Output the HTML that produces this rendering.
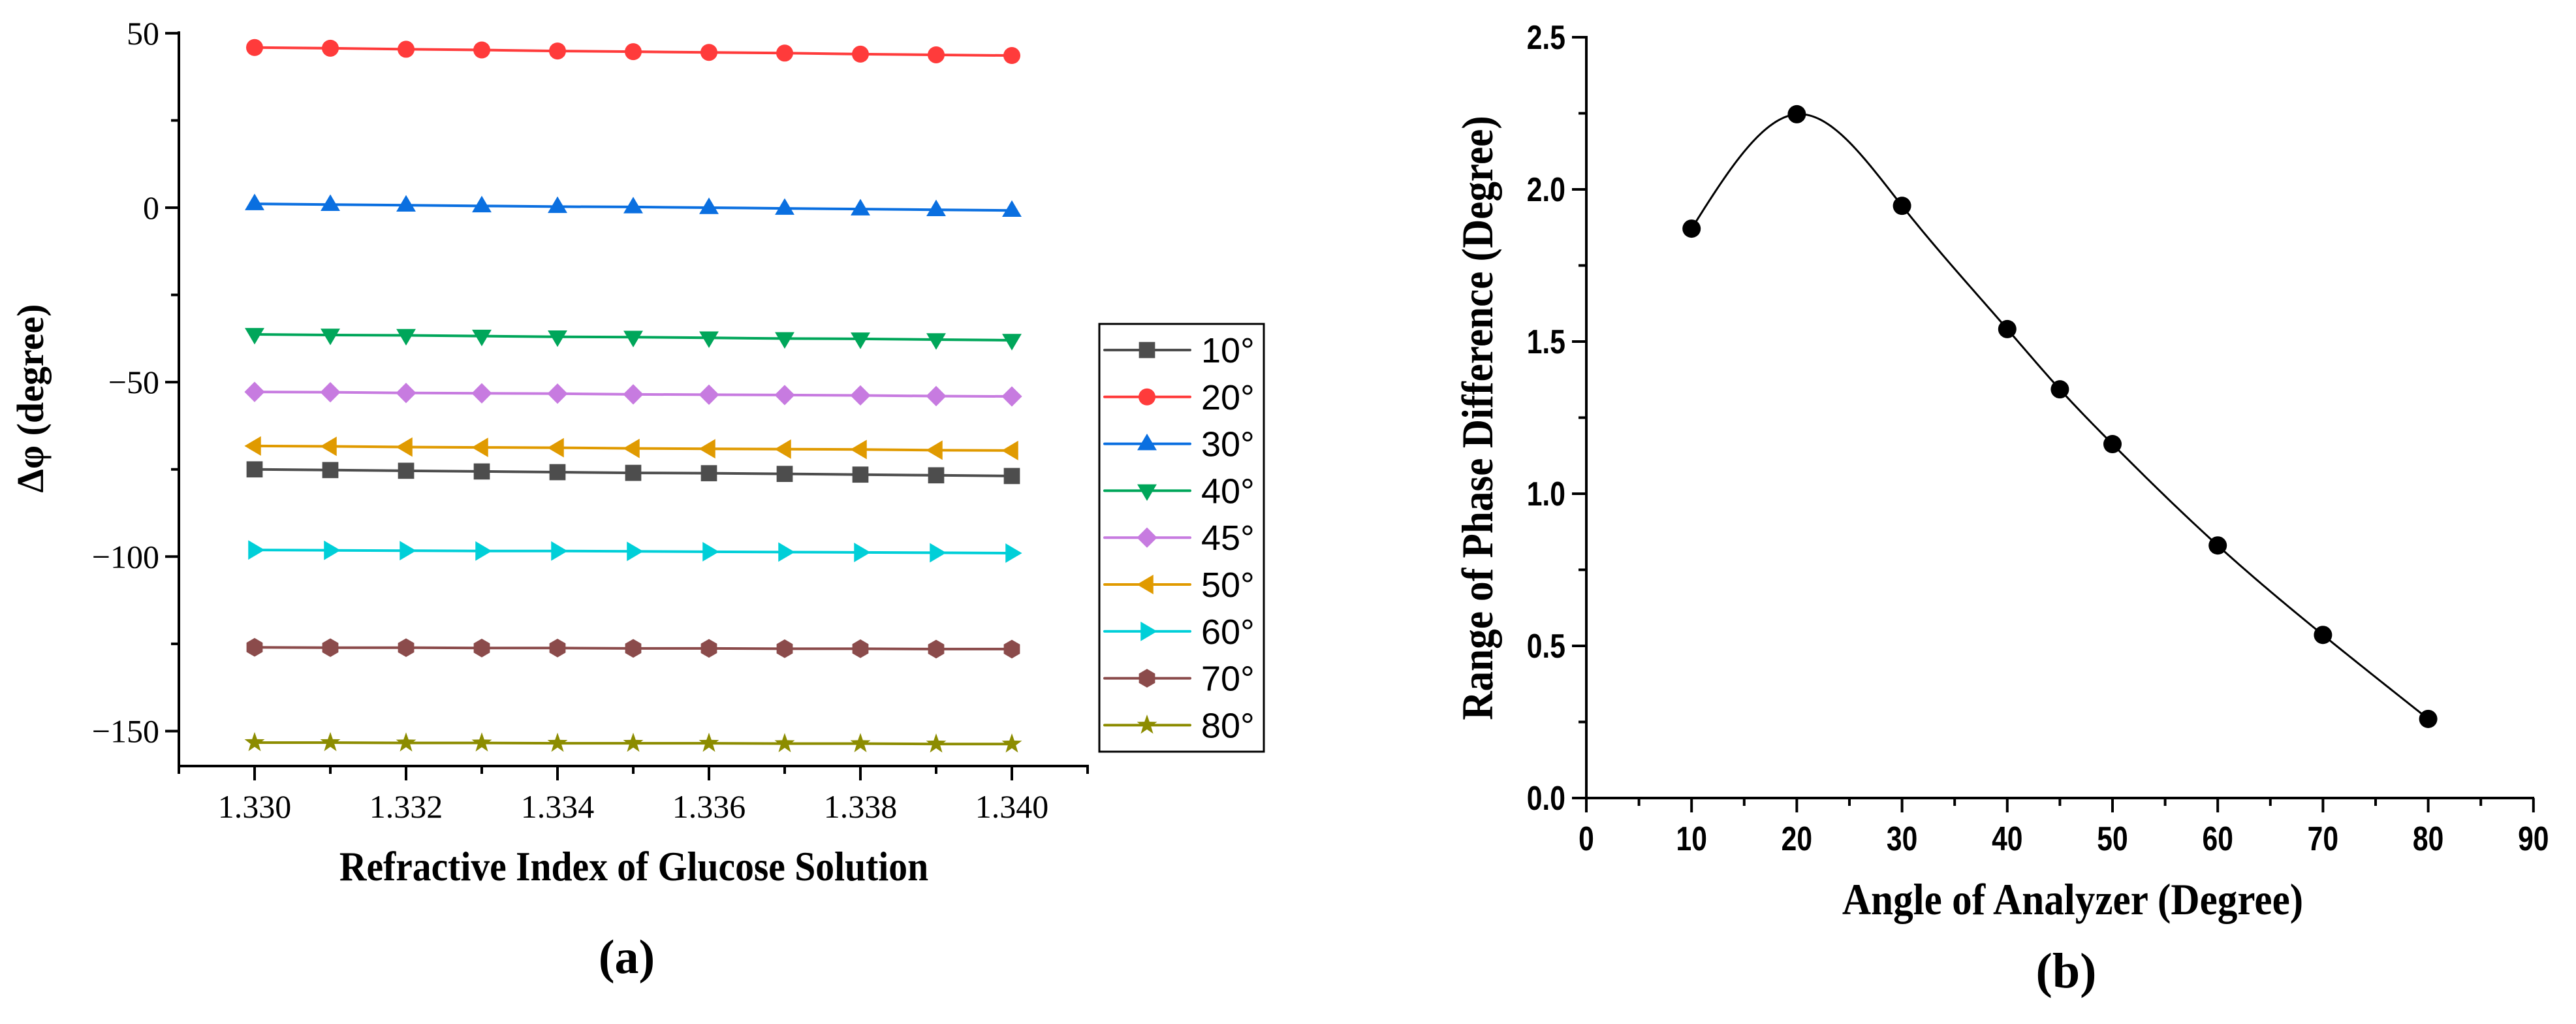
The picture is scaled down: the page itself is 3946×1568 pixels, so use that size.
<!DOCTYPE html>
<html><head><meta charset="utf-8"><style>
html,body{margin:0;padding:0;background:#fff}
svg{display:block}
.ser{font-family:"Liberation Serif",serif}
.san{font-family:"Liberation Sans",sans-serif}
</style></head><body>
<svg id="fig" width="3946" height="1568" viewBox="0 0 3946 1568" xmlns="http://www.w3.org/2000/svg">
<g id="ga"></g>
<g id="gb"></g>
</svg>
<script>
// ---- Chart (a) data ----
const xA = [1.330,1.331,1.332,1.333,1.334,1.335,1.336,1.337,1.338,1.339,1.340];
const aLabels = ["10°","20°","30°","40°","45°","50°","60°","70°","80°"];
const aColors = ["#4d4d4d","#ff3b3b","#0a6fe0","#00a65a","#c77be0","#e09a00","#00cfd8","#8b4b4b","#8c8c00"];
const aMarkers = ["square","circle","tri-up","tri-down","diamond","tri-left","tri-right","hexagon","star"];
const s10 = [-75.0,-75.2,-75.4,-75.6,-75.8,-76.0,-76.1,-76.3,-76.5,-76.7,-76.9];
const s20 = [45.9,45.7,45.4,45.2,44.9,44.7,44.5,44.3,44.0,43.8,43.6];
const s30 = [1.1,0.9,0.7,0.5,0.3,0.2,0.0,-0.2,-0.4,-0.6,-0.8];
const s40 = [-36.3,-36.5,-36.6,-36.8,-37.0,-37.1,-37.3,-37.5,-37.6,-37.8,-38.0];
const s45 = [-52.8,-52.9,-53.1,-53.2,-53.3,-53.5,-53.6,-53.7,-53.8,-54.0,-54.1];
const s50 = [-68.3,-68.4,-68.6,-68.7,-68.8,-69.0,-69.1,-69.2,-69.3,-69.5,-69.6];
const s60 = [-98.1,-98.2,-98.3,-98.4,-98.4,-98.5,-98.6,-98.7,-98.8,-98.9,-99.0];
const s70 = [-126.0,-126.1,-126.1,-126.2,-126.2,-126.3,-126.3,-126.4,-126.4,-126.5,-126.5];
const s80 = [-153.3,-153.3,-153.4,-153.4,-153.5,-153.5,-153.5,-153.6,-153.6,-153.7,-153.7];
const aSeries = [s10,s20,s30,s40,s45,s50,s60,s70,s80];
const aXTicks = ["1.330","1.332","1.334","1.336","1.338","1.340"];
const aYTicks = ["50","0","\u221250","\u2212100","\u2212150"];
const aYTickVals = [50,0,-50,-100,-150];

// ---- Chart (b) data ----
const xB = [10,20,30,40,45,50,60,70,80];
const yB = [1.871,2.247,1.946,1.541,1.343,1.163,0.830,0.536,0.260];
const bXTicks = ["0","10","20","30","40","50","60","70","80","90"];
const bYTicks = ["0.0","0.5","1.0","1.5","2.0","2.5"];

const NS="http://www.w3.org/2000/svg";
function mk(tag,attrs,parent,text){const e=document.createElementNS(NS,tag);for(const k in attrs)e.setAttribute(k,attrs[k]);if(text!==undefined)e.textContent=text;parent.appendChild(e);return e;}

const axA = x => 390 + (x-1.330)/0.010*1160;
const ayA = y => 318 - y*5.343;
const ga=document.getElementById('ga');

function marker(type,cx,cy,col,parent,r){
  let e;
  if(type==="square"){e=mk('rect',{x:cx-r*0.95,y:cy-r*0.95,width:r*1.9,height:r*1.9,fill:col},parent);}
  else if(type==="circle"){e=mk('circle',{cx:cx,cy:cy,r:r,fill:col},parent);}
  else{
    let pts=[];
    if(type==="tri-up")pts=[[0,-1.2],[1.15,0.75],[-1.15,0.75]];
    if(type==="tri-down")pts=[[0,1.2],[1.15,-0.75],[-1.15,-0.75]];
    if(type==="tri-left")pts=[[-1.2,0],[0.75,1.15],[0.75,-1.15]];
    if(type==="tri-right")pts=[[1.2,0],[-0.75,1.15],[-0.75,-1.15]];
    if(type==="diamond")pts=[[0,-1.2],[1.2,0],[0,1.2],[-1.2,0]];
    if(type==="hexagon"){for(let i=0;i<6;i++){const a=Math.PI/3*i+Math.PI/6;pts.push([Math.cos(a)*1.1,Math.sin(a)*1.1]);}}
    if(type==="star"){for(let i=0;i<10;i++){const a=-Math.PI/2+Math.PI/5*i;const rr=i%2?0.5:1.25;pts.push([Math.cos(a)*rr,Math.sin(a)*rr]);}}
    e=mk('polygon',{points:pts.map(p=>(cx+p[0]*r)+','+(cy+p[1]*r)).join(' '),fill:col},parent);
  }
  return e;
}

let el;
el=mk('line',{x1:274,y1:48,x2:274,y2:1175,stroke:'#000','stroke-width':4},ga);

el=mk('line',{x1:272,y1:1173,x2:1668,y2:1173,stroke:'#000','stroke-width':4},ga);

for(let v=50;v>=-150;v-=25){const y=ayA(v);const major=(v%50===0);
  mk('line',{x1:major?253:262,y1:y,x2:274,y2:y,stroke:'#000','stroke-width':4},ga);}
aYTickVals.forEach((v,i)=>{el=mk('text',{x:244,y:ayA(v)+17,'text-anchor':'end','font-size':50,class:'ser'},ga,aYTicks[i]);
  });
for(let i=0;i<=12;i++){const x=axA(1.329+i*0.001);const major=((i-1)%2===0);
  mk('line',{x1:x,y1:1173,x2:x,y2:major?1195:1185,stroke:'#000','stroke-width':4},ga);}
aXTicks.forEach((t,i)=>{el=mk('text',{x:axA(1.330+i*0.002),y:1252,'text-anchor':'middle','font-size':50,class:'ser'},ga,t);
  });
el=mk('text',{x:971,y:1348,'text-anchor':'middle','font-size':64,'font-weight':'bold',class:'ser',transform:'translate(971,0) scale(0.9,1) translate(-971,0)'},ga,'Refractive Index of Glucose Solution');

el=mk('text',{x:0,y:0,'text-anchor':'middle','font-size':58,'font-weight':'bold',class:'ser',transform:'translate(66,610) rotate(-90)'},ga,'Δφ (degree)');

el=mk('text',{x:960,y:1490,'text-anchor':'middle','font-size':74,'font-weight':'bold',class:'ser'},ga,'(a)');


aSeries.forEach((s,k)=>{
  const g=mk('g',{},ga);
  
  
  mk('polyline',{points:s.map((v,i)=>axA(xA[i])+','+ayA(v)).join(' '),fill:'none',stroke:aColors[k],'stroke-width':4},g);
  s.forEach((v,i)=>{const m=marker(aMarkers[k],axA(xA[i]),ayA(v),aColors[k],g,13);
    
    });
});

const lg=mk('g',{},ga);


mk('rect',{x:1684,y:496,width:252,height:655,fill:'#fff',stroke:'#000','stroke-width':3},lg);
aLabels.forEach((l,k)=>{
  const y=536+k*71.8;
  const e=mk('g',{},lg);
  
  
  mk('line',{x1:1692,y1:y,x2:1823,y2:y,stroke:aColors[k],'stroke-width':4,'stroke-linecap':'round'},e);
  marker(aMarkers[k],1757,y,aColors[k],e,13);
  mk('text',{x:1840,y:y+19,'font-size':54,class:'san'},e,l);
});

const gb=document.getElementById('gb');
const axB = x => 2430 + x*16.12;
const ayB = y => 1222 - y*466;
el=mk('line',{x1:2430,y1:55,x2:2430,y2:1224,stroke:'#000','stroke-width':4},gb);

el=mk('line',{x1:2428,y1:1222,x2:3882,y2:1222,stroke:'#000','stroke-width':4},gb);

for(let i=0;i<=10;i++){const y=ayB(i*0.25);const major=i%2===0;
  mk('line',{x1:major?2408:2418,y1:y,x2:2430,y2:y,stroke:'#000','stroke-width':4},gb);}
bYTicks.forEach((t,i)=>{el=mk('text',{x:2398,y:ayB(i*0.5)+18,'text-anchor':'end','font-size':52,'font-weight':'bold',class:'san',transform:`translate(2398,0) scale(0.82,1) translate(-2398,0)`},gb,t);
  });
for(let i=0;i<=18;i++){const x=axB(i*5);const major=i%2===0;
  mk('line',{x1:x,y1:1222,x2:x,y2:major?1244:1234,stroke:'#000','stroke-width':4},gb);}
bXTicks.forEach((t,i)=>{const x=axB(i*10);el=mk('text',{x:x,y:1302,'text-anchor':'middle','font-size':52,'font-weight':'bold',class:'san',transform:`translate(${x},0) scale(0.82,1) translate(${-x},0)`},gb,t);
  });
el=mk('text',{x:3175,y:1400,'text-anchor':'middle','font-size':68,'font-weight':'bold',class:'ser',transform:'translate(3175,0) scale(0.9,1) translate(-3175,0)'},gb,'Angle of Analyzer (Degree)');

el=mk('text',{x:0,y:0,'text-anchor':'middle','font-size':68,'font-weight':'bold',class:'ser',transform:'translate(2286,640) rotate(-90) scale(0.9,1)'},gb,'Range of Phase Difference (Degree)');

el=mk('text',{x:3165,y:1512,'text-anchor':'middle','font-size':76,'font-weight':'bold',class:'ser'},gb,'(b)');


function spline(xs,ys){
  const n=xs.length,h=[],al=[0],l=[1],mu=[0],z=[0],c=new Array(n).fill(0),b=[],d=[];
  for(let i=0;i<n-1;i++)h.push(xs[i+1]-xs[i]);
  for(let i=1;i<n-1;i++)al.push(3/h[i]*(ys[i+1]-ys[i])-3/h[i-1]*(ys[i]-ys[i-1]));
  for(let i=1;i<n-1;i++){l[i]=2*(xs[i+1]-xs[i-1])-h[i-1]*mu[i-1];mu[i]=h[i]/l[i];z[i]=(al[i]-h[i-1]*z[i-1])/l[i];}
  l[n-1]=1;z[n-1]=0;
  for(let j=n-2;j>=0;j--){c[j]=z[j]-mu[j]*c[j+1];b[j]=(ys[j+1]-ys[j])/h[j]-h[j]*(c[j+1]+2*c[j])/3;d[j]=(c[j+1]-c[j])/(3*h[j]);}
  return x=>{let j=0;while(j<n-2&&x>xs[j+1])j++;const t=x-xs[j];return ys[j]+b[j]*t+c[j]*t*t+d[j]*t*t*t;};
}
const f=spline(xB,yB);
let pts=[];
for(let x=xB[0];x<=xB[xB.length-1]+1e-9;x+=0.25)pts.push(axB(x)+','+ayB(f(x)));
el=mk('polyline',{points:pts.join(' '),fill:'none',stroke:'#000','stroke-width':3},gb);

xB.forEach((x,i)=>{el=mk('circle',{cx:axB(x),cy:ayB(yB[i]),r:14,fill:'#000'},gb);
  
  });
</script>
</body></html>
